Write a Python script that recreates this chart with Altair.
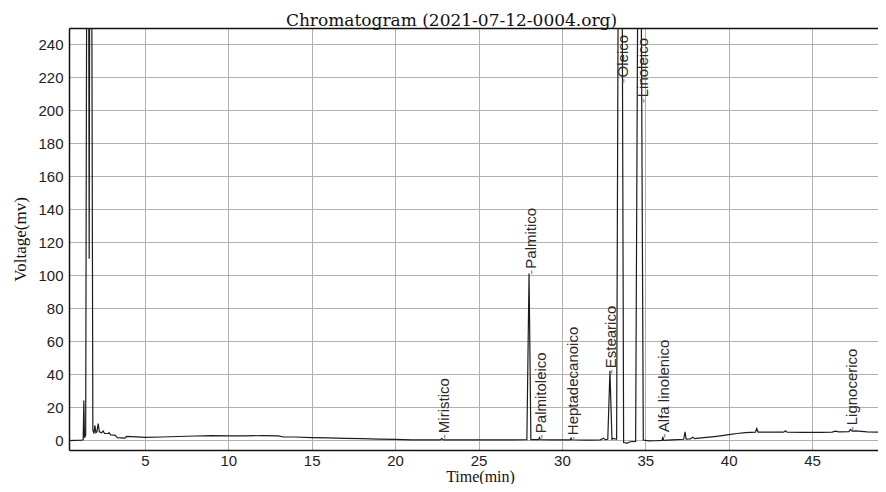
import altair as alt
import pandas as pd

# ---- chromatogram trace (time in min, signal in mV) ----
time_min = [
    0.45, 0.8, 1.2, 1.30, 1.34, 1.38, 1.45, 1.58, 1.66, 1.74, 1.88, 1.95, 2.0, 2.06,
    2.12, 2.2, 2.27, 2.4, 2.5, 2.58, 2.8, 2.85, 2.95, 3.2, 3.35, 3.8, 3.9, 4.5, 5.0,
    6.0, 7.0, 8.0, 9.0, 10.0, 11.0, 12.0, 13.0, 13.3, 14.0, 15.0, 16.0, 17.0, 18.0,
    19.0, 20.0, 21.0, 22.0, 22.7, 22.8, 22.9, 24.0, 25.0, 26.0, 27.0, 27.9, 28.03,
    28.14, 28.6, 28.65, 28.7, 29.5, 30.5, 30.55, 30.6, 31.5, 32.3, 32.5, 32.6, 32.75,
    32.88, 33.0, 33.1, 33.28, 33.5, 33.7, 33.9, 34.1, 34.42, 34.65, 34.88, 35.2, 35.6,
    36.0, 36.05, 36.1, 36.6, 37.3, 37.38, 37.45, 37.7, 37.85, 37.95, 38.5, 39.0, 39.5,
    40.0, 40.5, 41.0, 41.6, 41.68, 41.76, 42.5, 43.3, 43.4, 43.5, 44.5, 45.5, 46.2,
    46.4, 46.6, 47.2, 47.3, 47.4, 47.6, 48.3, 49.3,
]
voltage_mv = [
    -0.3, -0.2, 0.0, 0.2, 24, 1.5, 3, 600, 110, 600, 6, 4, 9, 4.5,
    5, 10, 5, 4.5, 5.5, 4, 4, 4.5, 3.2, 3, 1.5, 1.2, 2.2, 2.0, 1.7,
    1.9, 2.2, 2.5, 2.7, 2.6, 2.6, 2.7, 2.6, 1.9, 1.9, 1.5, 1.3, 1.1, 0.9,
    0.6, 0.4, 0.2, 0.1, 0.1, 1.0, 0.1, 0.1, 0.2, 0.1, 0.1, 0.2, 101,
    0.3, 0.3, 1.5, 0.3, 0.2, 0.2, 1.2, 0.2, 0.0, 0.2, 1.2, 0.3, 0.5,
    42, 0.5, 1.0, 0.5, 650, -1.5, -1.8, -1.0, -0.8, 500, 0.0, -0.5, -0.4,
    -0.2, 2, -0.2, 0.2, 0.5, 5, 0.6, 0.8, 1.8, 0.9, 1.5, 2.0, 2.6,
    3.3, 4.0, 4.5, 4.8, 7, 4.9, 4.8, 4.8, 5.6, 4.8, 4.7, 4.7, 4.8,
    5.4, 5.0, 5.2, 6.5, 5.5, 5.6, 5.0, 4.8,
]

# ---- peak annotations ----
peak_names = ["Miristico", "Palmitico", "Palmitoleico", "Heptadecanoico", "Estearico",
              "Oleico", "Linoleico", "Alfa linolenico", "Lignocerico"]
label_time = [22.93, 28.12, 28.75, 30.64, 32.97, 33.66, 34.86, 36.12, 47.42]
label_start_mv = [4.2, 104, 4.2, 3.0, 43.6, 220, 208, 4.8, 9.0]

x_ticks = [5, 10, 15, 20, 25, 30, 35, 40, 45]
y_ticks = [0, 20, 40, 60, 80, 100, 120, 140, 160, 180, 200, 220, 240]
title_text = "Chromatogram (2021-07-12-0004.org)"

trace = pd.DataFrame({"t": time_min, "v": voltage_mv})
labels = pd.DataFrame({"name": peak_names, "t": label_time, "v": label_start_mv})

x_scale = alt.Scale(domain=[0.45, 48.95], nice=False, zero=False)
y_scale = alt.Scale(domain=[-6, 250], nice=False, zero=False)

x_axis = alt.Axis(
    values=x_ticks, title="Time(min)", grid=True, ticks=False, tickSize=0,
    labelPadding=3, labelFont="Liberation Sans", labelFontSize=15, labelColor="#222222",
    titleFont="Liberation Serif", titleFontSize=16, titleFontWeight="normal",
    titleColor="#111111", titleBaseline="bottom", titleY=34, titleX=411,
)
y_axis = alt.Axis(
    values=y_ticks, title="Voltage(mv)", grid=True, ticks=False, tickSize=0,
    labelOverlap=False, labelPadding=6, labelFont="Liberation Sans", labelFontSize=15,
    labelColor="#222222",
    titleFont="Liberation Serif", titleFontSize=17, titleFontWeight="normal",
    titleColor="#111111", titleAngle=270, titleBaseline="alphabetic",
    titleAlign="center", titleX=-44, titleY=211,
)
top_axis = alt.Axis(
    orient="top", labels=False, ticks=False, grid=False, domain=True,
    domainColor="#111111", domainWidth=1.5, title=title_text,
    titleFont="DejaVu Serif", titleFontSize=17, titleFontWeight="normal",
    titleColor="#111111", titleBaseline="alphabetic", titleAlign="center",
    titleX=382, titleY=-3,
)

line = alt.Chart(trace).mark_line(clip=True, color="#1c1c1c", strokeWidth=1.2).encode(
    x=alt.X("t:Q", scale=x_scale, axis=x_axis),
    y=alt.Y("v:Q", scale=y_scale, axis=y_axis),
)

dashes = alt.Chart(labels).mark_text(
    text="-", angle=270, align="right", baseline="middle", font="Liberation Sans",
    fontSize=15, color="#6d8cc0", dx=-1,
).encode(
    x=alt.X("t:Q", scale=x_scale, axis=None),
    y=alt.Y("v:Q", scale=y_scale, axis=y_axis),
)

names = alt.Chart(labels).mark_text(
    angle=270, align="left", baseline="middle", font="Liberation Sans",
    fontSize=15, color="#2a2a2a",
).encode(
    x=alt.X("t:Q", scale=x_scale, axis=top_axis),
    y=alt.Y("v:Q", scale=y_scale, axis=y_axis),
    text="name:N",
)

chart = (
    alt.layer(line, dashes, names)
    .resolve_axis(x="independent")
    .properties(
        width=809,
        height=422,
        autosize=alt.AutoSizeParams(type="none"),
        padding={"left": 61, "top": 20, "right": 0, "bottom": 34},
    )
    .configure_view(strokeWidth=0)
    .configure_axis(domainColor="#111111", domainWidth=1.5, gridColor="#b0b0b0", gridWidth=1)
)

chart.save("out.html", embed_options={"renderer": "svg", "actions": False})
